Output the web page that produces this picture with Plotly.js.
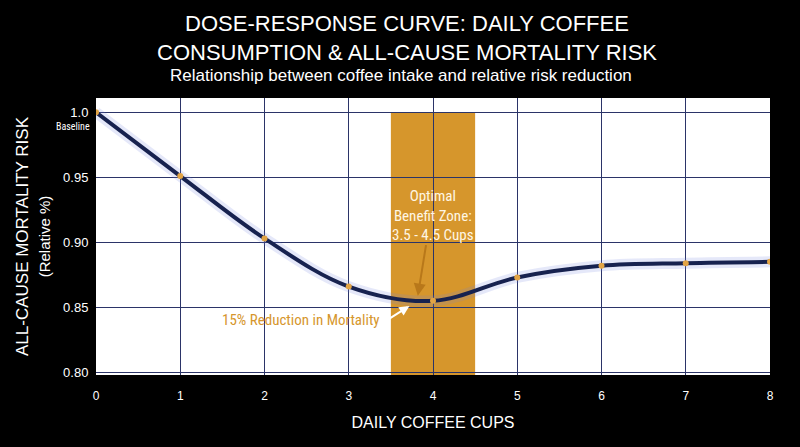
<!DOCTYPE html>
<html>
<head>
<meta charset="utf-8">
<script src="https://cdn.plot.ly/plotly-3.0.1.min.js"></script>
<style>
  html, body { margin: 0; padding: 0; background: #000; }
  #chart { width: 800px; height: 447px; }
</style>
</head>
<body>
<div id="chart"></div>
<script>
const cups = [0, 1, 2, 3, 4, 5, 6, 7, 8];
const relativeRisk = [1.0, 0.951, 0.903, 0.866, 0.855, 0.873, 0.882, 0.884, 0.885];
const yTickVals = [0.8, 0.85, 0.9, 0.95, 1.0];
const yTickText = ["0.80", "0.85", "0.90", "0.95", "1.0"];
const zoneStart = 3.5;
const zoneEnd = 4.5;

const navy = "#17224f";
const gold = "#d6962c";
const condensed = "'Roboto Condensed', 'DejaVu Sans Condensed', Roboto, sans-serif";
const sans = "'Liberation Sans', Arial, sans-serif";

const glow = {
  type: "scatter",
  mode: "lines",
  x: cups,
  y: relativeRisk,
  line: { shape: "spline", color: "rgba(110,130,220,0.18)", width: 11 },
  hoverinfo: "skip",
};

const curve = {
  type: "scatter",
  mode: "lines+markers",
  x: cups,
  y: relativeRisk,
  line: { shape: "spline", color: navy, width: 4 },
  marker: { size: 6, color: "#e2a445" },
  hovertemplate: "%{x} cups: %{y}<extra></extra>",
};

const layout = {
  width: 800,
  height: 447,
  margin: { l: 96, r: 30, t: 98, b: 72 },
  paper_bgcolor: "#000",
  plot_bgcolor: "#fff",
  showlegend: false,
  font: { family: sans, color: "#fff" },
  xaxis: {
    range: [0, 8],
    tickvals: cups,
    gridcolor: "#2b3468",
    gridwidth: 1,
    zeroline: false,
    showline: false,
    ticks: "outside",
    ticklen: 10,
    tickcolor: "rgba(0,0,0,0)",
    tickfont: { size: 12, color: "#fff" },
    title: { text: "DAILY COFFEE CUPS", font: { size: 16, color: "#fff" }, standoff: 14 },
  },
  yaxis: {
    range: [0.798, 1.011],
    tickvals: yTickVals,
    ticktext: yTickText,
    gridcolor: "#2b3468",
    gridwidth: 1,
    zeroline: false,
    ticks: "outside",
    ticklen: 4,
    tickcolor: "rgba(0,0,0,0)",
    tickfont: { size: 13, color: "#fff" },
    title: {
      text: "ALL-CAUSE MORTALITY RISK<br><span style='font-size:15px'>(Relative %)</span>",
      font: { size: 17, color: "#fff" },
      standoff: 8,
    },
  },
  shapes: [
    {
      type: "rect",
      layer: "below",
      xref: "x",
      yref: "y",
      x0: zoneStart,
      x1: zoneEnd,
      y0: 0.798,
      y1: 1.0,
      fillcolor: gold,
      line: { width: 0 },
    },
  ],
  annotations: [
    {
      text: "DOSE-RESPONSE CURVE: DAILY COFFEE<br>CONSUMPTION & ALL-CAUSE MORTALITY RISK",
      xref: "paper",
      yref: "paper",
      x: 0.462,
      y: 1.215,
      xanchor: "center",
      yanchor: "middle",
      showarrow: false,
      font: { family: sans, size: 22, color: "#fff" },
    },
    {
      text: "Relationship between coffee intake and relative risk reduction",
      xref: "paper",
      yref: "paper",
      x: 0.4525,
      y: 1.083,
      xanchor: "center",
      yanchor: "middle",
      showarrow: false,
      font: { family: sans, size: 17, color: "#fff" },
    },
    {
      text: "Baseline",
      xref: "paper",
      yref: "y",
      x: -0.006,
      y: 0.989,
      xanchor: "right",
      showarrow: false,
      font: { family: condensed, size: 10, color: "#fff" },
    },
    {
      text: "Optimal<br>Benefit Zone:<br>3.5 - 4.5 Cups",
      xref: "x",
      yref: "y",
      x: 4,
      y: 0.921,
      showarrow: false,
      font: { family: condensed, size: 15, color: "#fff6e4" },
    },
    {
      text: "",
      xref: "x",
      yref: "y",
      axref: "x",
      ayref: "y",
      x: 3.82,
      y: 0.859,
      ax: 3.92,
      ay: 0.899,
      showarrow: true,
      arrowhead: 2,
      arrowsize: 1.2,
      arrowwidth: 2,
      arrowcolor: "#b8781a",
      standoff: 0,
    },
    {
      text: "15% Reduction in Mortality",
      xref: "x",
      yref: "y",
      x: 2.43,
      y: 0.84,
      showarrow: false,
      font: { family: condensed, size: 15, color: gold },
    },
    {
      text: "",
      xref: "x",
      yref: "y",
      axref: "x",
      ayref: "y",
      x: 3.72,
      y: 0.851,
      ax: 3.46,
      ay: 0.8405,
      showarrow: true,
      arrowhead: 2,
      arrowsize: 1,
      arrowwidth: 2,
      arrowcolor: "#fff",
      standoff: 0,
    },
  ],
};

Plotly.newPlot("chart", [glow, curve], layout, { displayModeBar: false, staticPlot: true });
</script>
</body>
</html>
